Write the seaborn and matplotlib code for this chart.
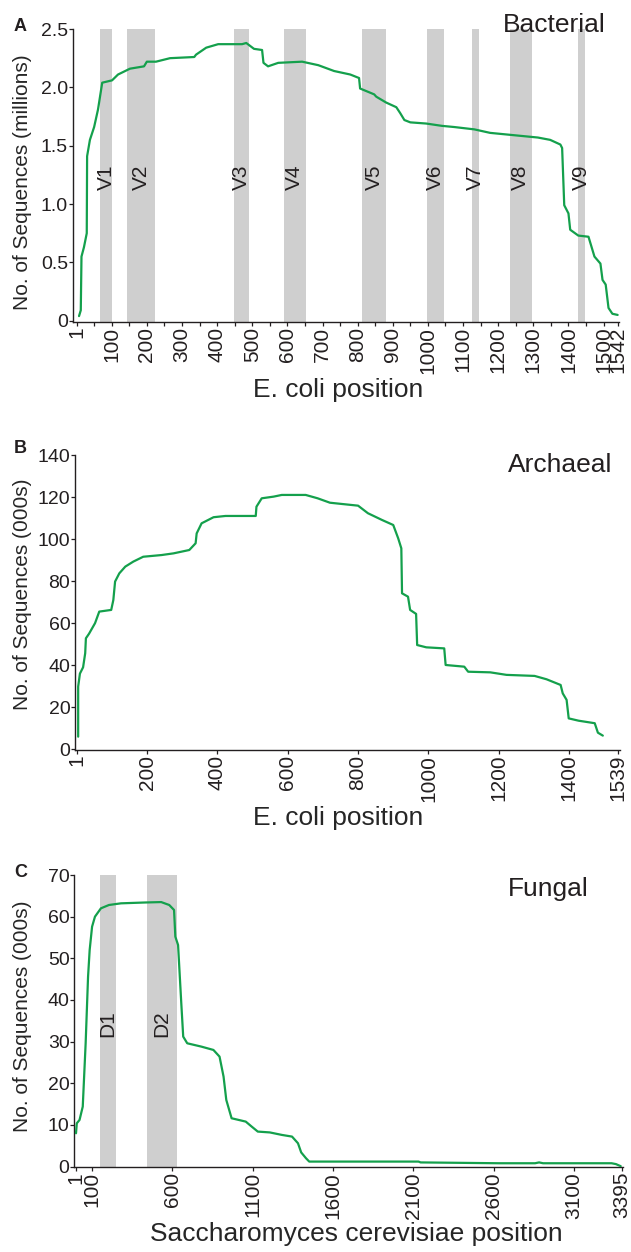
import matplotlib
matplotlib.use("Agg")
import matplotlib.pyplot as plt
import pandas as pd
import seaborn as sns

# panel A - bacterial 16S coverage (millions of sequences)
bac_pos = [7, 12, 14, 21, 29, 30, 38, 50, 61, 73, 101, 118, 152, 192, 200, 226, 266, 335, 340, 369,
           403, 471, 483, 505, 528, 532, 545, 574, 642, 688, 733, 779, 804, 807, 847, 853, 881, 910, 921, 933,
           950, 995, 1040, 1075, 1132, 1177, 1245, 1313, 1348, 1377, 1382, 1388, 1400, 1405, 1428, 1457, 1474,
           1491, 1497, 1506, 1514, 1525, 1540]
bac_seqs = [0.04, 0.09, 0.55, 0.63, 0.75, 1.41, 1.55, 1.66, 1.81, 2.04, 2.06, 2.11, 2.16, 2.18, 2.22, 2.22,
            2.25, 2.26, 2.28, 2.34, 2.37, 2.37, 2.38, 2.33, 2.32, 2.21, 2.18, 2.21, 2.22, 2.19, 2.14, 2.11,
            2.08, 1.99, 1.94, 1.92, 1.87, 1.83, 1.78, 1.72, 1.70, 1.69, 1.67, 1.66, 1.64, 1.61, 1.59, 1.57,
            1.55, 1.51, 1.48, 0.99, 0.92, 0.78, 0.73, 0.72, 0.55, 0.49, 0.35, 0.31, 0.11, 0.06, 0.05]
bac_regions = ["V1", "V2", "V3", "V4", "V5", "V6", "V7", "V8", "V9"]
bac_reg_start = [68, 144, 449, 589, 813, 998, 1126, 1233, 1426]
bac_reg_end = [102, 223, 492, 653, 880, 1045, 1145, 1296, 1448]
bac_xticks = [1] + list(range(100, 1501, 100)) + [1542]
bac_yticks = [0, 0.5, 1.0, 1.5, 2.0, 2.5]
bac_ylabels = ["0", "0.5", "1.0", "1.5", "2.0", "2.5"]

# panel B - archaeal 16S coverage (thousands)
arc_pos = [4, 4, 9, 18, 24, 26, 35, 52, 64, 98, 104, 109, 121, 138, 161, 189, 241, 275, 320, 338,
           341, 355, 389, 423, 509, 511, 526, 560, 583, 651, 685, 720, 754, 800, 828, 868, 900, 914, 923, 925,
           942, 948, 965, 968, 994, 1045, 1049, 1102, 1113, 1176, 1222, 1302, 1336, 1376, 1382, 1393, 1399,
           1427, 1473, 1482, 1496]
arc_seqs = [6, 29.8, 36, 39, 45.7, 52.8, 55, 60, 65.5, 66.3, 71, 79.8, 83.7, 86.9, 89.3, 91.6, 92.4, 93.2,
            94.8, 98, 102.7, 107.5, 110.4, 111, 111, 115.4, 119.4, 120.2, 121, 121, 119.4, 117.3, 116.7,
            115.9, 112.3, 109.1, 106.7, 100.4, 95.6, 74.2, 72.6, 66.3, 64.4, 49.6, 48.5, 48, 40.1, 39.3,
            36.9, 36.6, 35.4, 34.9, 33.3, 30.6, 26.6, 23.5, 14.7, 13.6, 12.4, 7.9, 6.5]
arc_xticks = [1, 200, 400, 600, 800, 1000, 1200, 1400, 1539]
arc_yticks = [0, 20, 40, 60, 80, 100, 120, 140]

# panel C - fungal 28S coverage (thousands)
fun_pos = [1, 6, 23, 43, 61, 76, 86, 101, 119, 156, 206, 281, 431, 531, 581, 611, 619, 636, 656, 668,
           693, 781, 856, 894, 919, 936, 969, 1057, 1094, 1132, 1207, 1282, 1345, 1382, 1402, 1432, 1452,
           2132, 2145, 2633, 2857, 2882, 2907, 3333, 3360, 3390]
fun_seqs = [8, 10.4, 11.2, 14.4, 29.6, 45.6, 52, 57.6, 60, 62, 62.8, 63.2, 63.4, 63.5, 62.8, 61.6, 55.2,
            53.2, 39.2, 31.2, 29.6, 28.8, 28, 26.4, 21.6, 16, 11.6, 10.8, 9.6, 8.4, 8.2, 7.6, 7.2, 5.6, 3.4,
            2, 1.2, 1.2, 1, 0.8, 0.8, 1.0, 0.8, 0.8, 0.6, 0.1]
fun_regions = ["D1", "D2"]
fun_reg_start = [151, 444]
fun_reg_end = [250, 630]
fun_xticks = [1, 100, 600, 1100, 1600, 2100, 2600, 3100, 3395]
fun_yticks = [0, 10, 20, 30, 40, 50, 60, 70]

GREEN = "#14a04c"
GREY = "#cfcfcf"
INK = "#231f20"

sns.set_theme(style="ticks")
plt.rcParams["font.family"] = ["Liberation Sans", "DejaVu Sans"]
plt.rcParams.update({
    "axes.edgecolor": INK, "axes.linewidth": 1.0,
    "xtick.color": INK, "ytick.color": INK,
    "xtick.labelcolor": INK, "ytick.labelcolor": INK,
    "xtick.major.size": 2.6, "ytick.major.size": 2.8,
    "xtick.minor.size": 2.6, "xtick.major.width": 0.9, "ytick.major.width": 0.9,
    "xtick.minor.width": 0.9, "xtick.major.pad": 1.0, "ytick.major.pad": 0.6,
    "text.color": INK,
})

W, H = 631, 1252
fig = plt.figure(figsize=(W / 100, H / 100), dpi=100)


def box(left, right, top, bottom):
    return [left / W, 1 - bottom / H, (right - left) / W, (bottom - top) / H]


def fig_xy(px, py):
    return px / W, 1 - py / H


def panel(rect, pos, seqs, xlim, ylim, xticks, yticks, ylabels, ylabel, xlabel,
          xlab_xy, ylab_xy, name, name_xy, letter, letter_xy):
    ax = fig.add_axes(rect)
    df = pd.DataFrame({"pos": pos, "seqs": seqs})
    sns.lineplot(data=df, x="pos", y="seqs", ax=ax, color=GREEN, lw=1.6,
                 estimator=None, sort=False, zorder=3)
    ax.set_xlim(*xlim)
    ax.set_ylim(*ylim)
    ax.set_xticks(xticks)
    ax.set_xticklabels([str(t) for t in xticks], rotation=90, fontsize=15)
    ax.set_yticks(yticks)
    ax.set_yticklabels(ylabels, fontsize=14)
    sns.despine(ax=ax)
    ax.set_xlabel(xlabel, fontsize=19, va="baseline")
    ax.xaxis.set_label_coords(*fig_xy(*xlab_xy), transform=fig.transFigure)
    ax.set_ylabel(ylabel, fontsize=15)
    ax.yaxis.label.set_va("center")
    ax.yaxis.set_label_coords(*fig_xy(*ylab_xy), transform=fig.transFigure)
    fig.text(*fig_xy(*name_xy), name, fontsize=19, ha="left", va="baseline")
    fig.text(*fig_xy(*letter_xy), letter, fontsize=13, fontweight="bold",
             ha="left", va="baseline")
    return ax


# A
axA = panel(box(72.7, 619.4, 29, 321.7), bac_pos, bac_seqs, (-11, 1545), (-0.008, 2.5),
            bac_xticks, bac_yticks, bac_ylabels, "No. of Sequences (millions)", "E. coli position",
            (338, 397.3), (22.5, 181.7), "Bacterial", (502.7, 32.3), "A", (14, 30.7))
axA.set_xticks(list(range(50, 1451, 100)), minor=True)
for s, e, lab in zip(bac_reg_start, bac_reg_end, bac_regions):
    axA.axvspan(s, e, color=GREY, lw=0, zorder=1)
    axA.text((s + e) / 2, 1.23, lab, rotation=90, ha="center", va="center",
             fontsize=15, zorder=4)

# B
axB = panel(box(75, 619.7, 455, 749.7), arc_pos, arc_seqs, (-5, 1544), (-0.2, 140),
            arc_xticks, arc_yticks, [str(t) for t in arc_yticks], "No. of Sequences (000s)",
            "E. coli position", (338, 825), (22.5, 594), "Archaeal", (507.8, 471.7), "B", (14, 453.3))

# C
axC = panel(box(74.3, 623.3, 875, 1167), fun_pos, fun_seqs, (-9.6, 3406), (-0.1, 70),
            fun_xticks, fun_yticks, [str(t) for t in fun_yticks], "No. of Sequences (000s)",
            "Saccharomyces cerevisiae position", (356, 1241), (22.5, 1016.7), "Fungal",
            (507.8, 895.7), "C", (14, 876.7))
for s, e, lab in zip(fun_reg_start, fun_reg_end, fun_regions):
    axC.axvspan(s, e, color=GREY, lw=0, zorder=1)
    axC.text((s + e) / 2, 34.4, lab, rotation=90, ha="center", va="center",
             fontsize=15, zorder=4)

fig.savefig("out.png", dpi=100)
